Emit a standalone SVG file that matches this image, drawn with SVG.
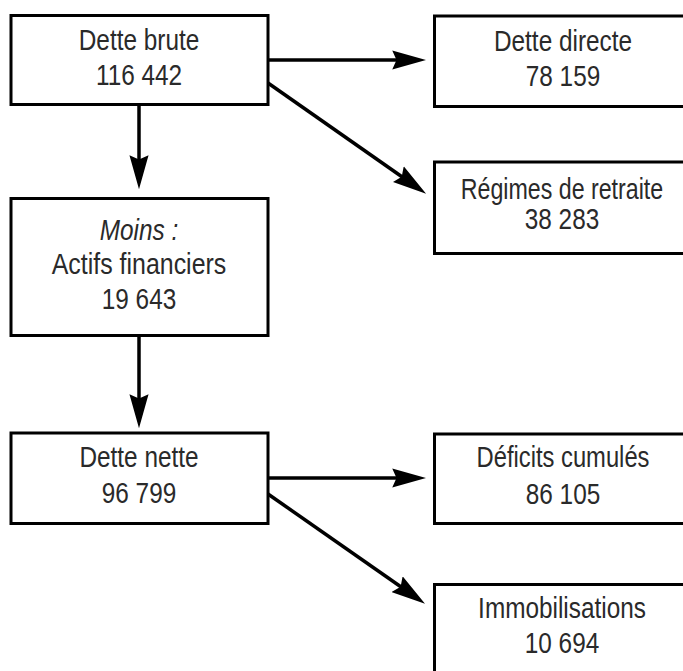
<svg xmlns="http://www.w3.org/2000/svg" width="683" height="671" viewBox="0 0 683 671">
<style>
.box{fill:#fff;stroke:#000;stroke-width:3}
.t{font-family:"Liberation Sans",Arial,sans-serif;font-size:29px;fill:#2a2a2a;text-anchor:middle}
.it{font-style:italic}
.con{stroke:#000;stroke-width:3.5;fill:none;marker-end:url(#ah)}
</style>
<defs>
<marker id="ah" markerUnits="userSpaceOnUse" markerWidth="34" markerHeight="20" viewBox="0 0 32 18" refX="12" refY="9" orient="auto">
<path d="M0,0 L32,9 L0,18 L4,9 Z" fill="#000"/>
</marker>
</defs>
<rect width="683" height="671" fill="#fff"/>
<g id="connectors">
<line class="con" x1="139" y1="106" x2="139" y2="168"/>
<line class="con" x1="139" y1="336" x2="139" y2="407"/>
<line class="con" x1="268" y1="60" x2="405" y2="60"/>
<line class="con" x1="268" y1="83" x2="408.7" y2="181.5"/>
<line class="con" x1="268" y1="478" x2="405" y2="478"/>
<line class="con" x1="268" y1="494" x2="407.6" y2="591.5"/>
</g>
<g id="dette-brute">
<rect class="box" x="11" y="15.5" width="257" height="89"/>
<text class="t" transform="translate(139 49.5) scale(0.84 1)">Dette brute</text>
<text class="t" transform="translate(139 84.5) scale(0.84 1)">116 442</text>
</g>
<g id="actifs-financiers">
<rect class="box" x="11" y="198.5" width="257" height="137"/>
<text class="t it" transform="translate(139 239.5) scale(0.84 1)">Moins :</text>
<text class="t" transform="translate(139 273.5) scale(0.86 1)">Actifs financiers</text>
<text class="t" transform="translate(139 309) scale(0.84 1)">19 643</text>
</g>
<g id="dette-nette">
<rect class="box" x="11" y="433" width="257" height="90.5"/>
<text class="t" transform="translate(139 467) scale(0.84 1)">Dette nette</text>
<text class="t" transform="translate(139 503) scale(0.84 1)">96 799</text>
</g>
<g id="dette-directe">
<rect class="box" x="434.5" y="16" width="260" height="90.5"/>
<text class="t" transform="translate(563 51) scale(0.84 1)">Dette directe</text>
<text class="t" transform="translate(563 86) scale(0.84 1)">78 159</text>
</g>
<g id="regimes-retraite">
<rect class="box" x="434.5" y="162" width="260" height="91.5"/>
<text class="t" transform="translate(562 199) scale(0.8 1)">Régimes de retraite</text>
<text class="t" transform="translate(562 229) scale(0.84 1)">38 283</text>
</g>
<g id="deficits-cumules">
<rect class="box" x="434.5" y="434" width="260" height="89.5"/>
<text class="t" transform="translate(563 467) scale(0.82 1)">Déficits cumulés</text>
<text class="t" transform="translate(563 504) scale(0.84 1)">86 105</text>
</g>
<g id="immobilisations">
<rect class="box" x="434.5" y="584.5" width="260" height="100"/>
<text class="t" transform="translate(562 618) scale(0.84 1)">Immobilisations</text>
<text class="t" transform="translate(562 653) scale(0.84 1)">10 694</text>
</g>
</svg>
